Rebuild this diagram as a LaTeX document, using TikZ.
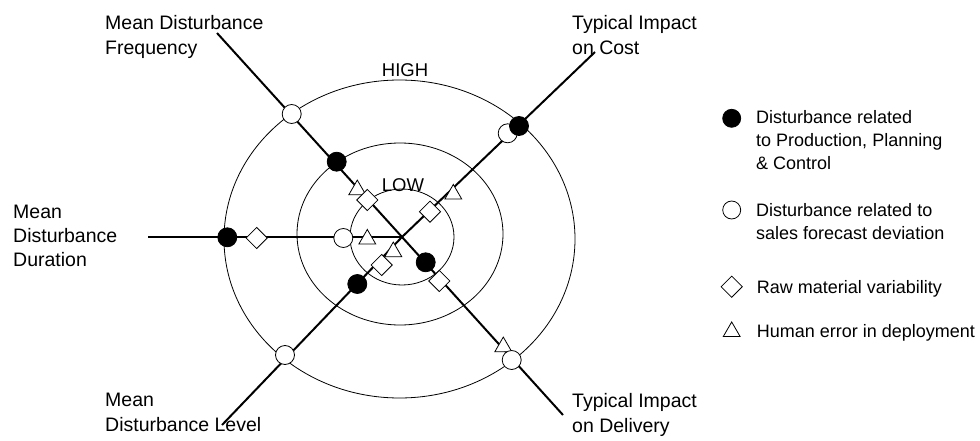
\documentclass[tikz,border=0pt]{standalone}
\usepackage{fontspec}
\setmainfont{Liberation Sans}
\usetikzlibrary{shapes.geometric}
\begin{document}
\begin{tikzpicture}[x=1pt,y=-1pt,
  axis/.style={line width=2pt},
  ring/.style={ellipse,draw=black,line width=0.8pt,inner sep=0pt},
  mk/.style={draw=black,line width=0.8pt,inner sep=0pt},
  fillc/.style={mk,circle,fill=black,minimum size=19pt},
  openc/.style={mk,circle,fill=white,minimum size=19pt},
  dia/.style={mk,diamond,fill=white,minimum width=21.5pt,minimum height=21.5pt},
  tri/.style={mk,regular polygon,regular polygon sides=3,fill=white,minimum size=19.5pt},
  lab/.style={anchor=north west,align=left,inner sep=0pt,font=\fontsize{19.5}{25}\selectfont},
  leg/.style={anchor=north west,align=left,inner sep=0pt,font=\fontsize{18}{23}\selectfont},
  lvl/.style={anchor=north west,inner sep=0pt,font=\fontsize{18.5}{22}\selectfont},
]
\useasboundingbox (0,0) rectangle (980,441);

% rings
\node[ring,minimum width=104pt,minimum height=96pt] (inner) at (402,237) {};
\node[ring,minimum width=206pt,minimum height=182pt] (middle) at (400,234) {};
\node[ring,minimum width=351pt,minimum height=318pt] (outer) at (399.5,239) {};

% level labels
\node[lvl] (high) at (381.7,63.3) {HIGH};
\node[lvl] (low) at (381.7,178.3) {LOW};

% axes
\coordinate (c) at (402,237);
\coordinate (w) at (148,237);
\coordinate (nw) at (217,33);
\coordinate (se) at (563,415);
\coordinate (ne) at (595,52);
\coordinate (sw) at (222,425);
\draw[axis] (w) -- (c);
\draw[axis] (nw) -- (c) -- (se);
\draw[axis] (ne) -- (c) -- (sw);

% markers: NW axis
\node[openc] (nwo) at (291.7,114) {};
\node[fillc] (nwf) at (336.7,161.7) {};
\node[tri] (nwt) at (357.3,189.8) {};
\node[dia] (nwd) at (367.3,200) {};
% SE axis
\node[fillc] (sef) at (425.7,262.3) {};
\node[dia] (sed) at (439.3,281) {};
\node[tri] (set) at (503.3,346.8) {};
\node[openc] (seo) at (511.7,360) {};
% W axis
\node[fillc] (wf) at (227.3,237.3) {};
\node[dia] (wd) at (256.7,238) {};
\node[openc] (wo) at (343.3,238) {};
\node[tri] (wt) at (367.3,239.2) {};
% NE axis
\node[openc] (neo) at (507.7,133.3) {};
\node[fillc] (nef) at (519,126) {};
\node[tri] (net) at (453.3,194.2) {};
\node[dia] (ned) at (430,211.7) {};
% SW axis
\node[tri] (swt) at (393.3,251.8) {};
\node[dia] (swd) at (381.7,265) {};
\node[fillc] (swf) at (357.3,284) {};
\node[openc] (swo) at (285,355) {};

% axis labels
\node[lab] (lnw) at (105,15) {Mean Disturbance\\Frequency};
\node[lab] (lne) at (572,15) {Typical Impact\\on Cost};
\node[lab,font=\fontsize{19.5}{24}\selectfont] (lw) at (13,205) {Mean\\Disturbance\\Duration};
\node[lab] (lsw) at (105,393) {Mean\\Disturbance Level};
\node[lab] (lse) at (572,393) {Typical Impact\\on Delivery};

% legend
\node[fillc,minimum size=18pt] (k1) at (731.7,118.3) {};
\node[leg] (t1) at (756,110) {Disturbance related\\to Production, Planning\\\& Control};
\node[openc,minimum size=18pt] (k2) at (731.7,210) {};
\node[leg] (t2) at (756,203.3) {Disturbance related to\\sales forecast deviation};
\node[dia] (k3) at (731.7,286.7) {};
\node[leg] (t3) at (756.7,280) {Raw material variability};
\node[tri] (k4) at (731.7,331.7) {};
\node[leg] (t4) at (756.7,324.3) {Human error in deployment};
\end{tikzpicture}
\end{document}
